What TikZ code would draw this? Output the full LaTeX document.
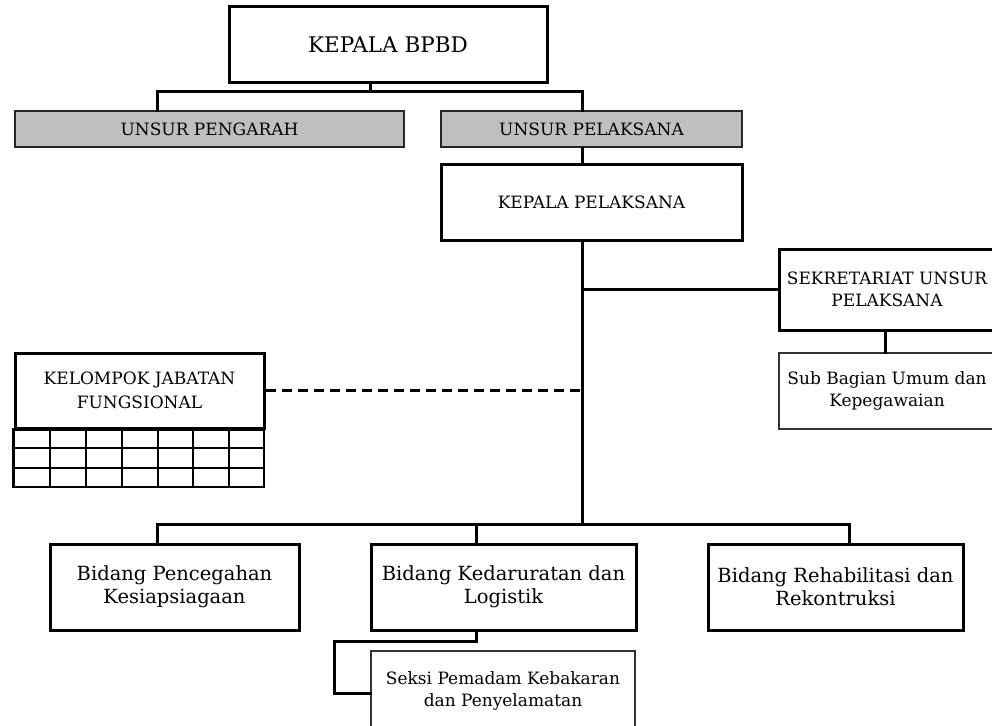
\documentclass[tikz,border=0pt]{standalone}
\usepackage{fontspec}
\setmainfont{DejaVu Serif}
\usetikzlibrary{calc}
\tikzset{
  thickbox/.style={draw=black, line width=3pt, fill=white, inner sep=0pt, align=center},
  graybox/.style={draw=black!85, line width=2pt, fill=black!25, inner sep=0pt, align=center},
  thinbox/.style={draw=black!80, line width=1.5pt, fill=white, inner sep=0pt, align=center},
  conn/.style={line width=3pt, line cap=rect},
  gridline/.style={line width=2.5pt},
  tbig/.style={font=\fontsize{21.5}{26}\selectfont},
  tmid/.style={font=\fontsize{19.5}{23}\selectfont},
  tsm/.style={font=\fontsize{17}{22}\selectfont},
}
\begin{document}
\begin{tikzpicture}[x=1pt, y=-1pt]
\useasboundingbox (0,0) rectangle (992,725);
\clip (0,0) rectangle (992,725);
% nodes
\node[thickbox, tbig, minimum width=318, minimum height=75] (bpbd) at (388,44.5) {KEPALA BPBD};
\node[graybox, tsm, minimum width=389, minimum height=36] (pengarah) at (209.5,129) {UNSUR PENGARAH};
\node[graybox, tsm, minimum width=301, minimum height=36] (upel) at (591.5,129) {UNSUR PELAKSANA};
\node[thickbox, tsm, minimum width=301, minimum height=76] (kp) at (591.5,202) {KEPALA PELAKSANA};
\node[thickbox, tsm, minimum width=216, minimum height=81] (sek) at (887,289.5) {SEKRETARIAT UNSUR\\PELAKSANA};
\node[thinbox, tsm, minimum width=216, minimum height=76] (subbag) at (887,391) {Sub Bagian Umum dan\\Kepegawaian};
\node[thickbox, tsm, font=\fontsize{17}{24}\selectfont, minimum width=249, minimum height=75] (kjf) at (139.5,390.5) {KELOMPOK JABATAN\\FUNGSIONAL};
\node[thickbox, tmid, minimum width=249, minimum height=86] (cegah) at (174.5,587) {Bidang Pencegahan\\Kesiapsiagaan};
\node[thickbox, tmid, minimum width=265, minimum height=86] (darurat) at (503.5,587) {Bidang Kedaruratan dan\\Logistik};
\node[thickbox, tmid, minimum width=255, minimum height=86] (rehab) at (835.5,587) {Bidang Rehabilitasi dan\\Rekontruksi};
\node[thinbox, tsm, minimum width=264, minimum height=79] (seksi) at (503,690.5) {Seksi Pemadam Kebakaran\\dan Penyelamatan};
% grid under kelompok
\draw[gridline] (kjf.south west) rectangle (264,487);
\foreach \yy in {448,468} \draw[gridline] (15,\yy) -- (264,\yy);
\foreach \xx in {50,86,122,158,193,229} \draw[gridline] (\xx,428) -- (\xx,487);
% coordinates
\coordinate (topbus) at (370,91);
\coordinate (trunk) at (582,0);
\coordinate (botbus) at (0,524);
\coordinate (xL) at (157,0);
\coordinate (xM) at (476,0);
\coordinate (xR) at (849,0);
\coordinate (xS) at (885,0);
\coordinate (xK) at (334,641);
% top connectors
\draw[conn] (bpbd.south -| topbus) -- (topbus);
\draw[conn] (pengarah.north -| xL) |- (topbus) -| (upel.north -| trunk);
\draw[conn] (upel.south -| trunk) -- (kp.north -| trunk);
% trunk
\draw[conn] (kp.south -| trunk) -- (trunk |- botbus);
\draw[conn] (trunk |- sek.west) -- (sek.west);
\draw[conn] (sek.south -| xS) -- (subbag.north -| xS);
\draw[conn, dash pattern=on 10pt off 6pt, line cap=butt] (kjf.east) -- (trunk |- kjf.east);
% bottom bus
\draw[conn] (cegah.north -| xL) |- (botbus -| xR) -- (rehab.north -| xR);
\draw[conn] (darurat.north -| xM) -- (xM |- botbus);
% seksi connector
\draw[conn] (darurat.south -| xM) |- (xK) |- ([yshift=-2.5pt]seksi.west);
\end{tikzpicture}
\end{document}
